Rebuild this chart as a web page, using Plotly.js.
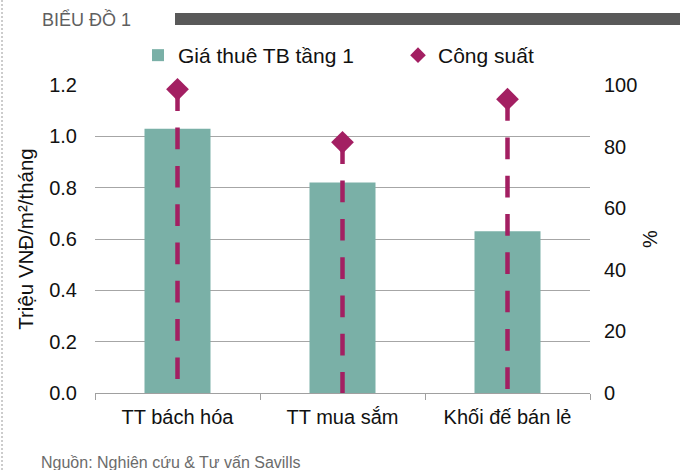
<!DOCTYPE html>
<html>
<head>
<meta charset="utf-8">
<script src="https://cdn.plot.ly/plotly-3.0.1.min.js"></script>
<style>
  html, body { margin: 0; padding: 0; background: #fff; }
  #chart { width: 680px; height: 470px; }
</style>
</head>
<body>
<div id="chart"></div>
<script>
// Retail segments and their figures
var categories = ["TT bách hóa", "TT mua sắm", "Khối đế bán lẻ"];
var rentValues = [1.03, 0.82, 0.63];        // Triệu VNĐ/m²/tháng (left axis)
var occupancyValues = [98.6, 81.4, 95.4];   // % (right axis)

var rentName = "Giá thuê TB tầng 1";
var occupancyName = "Công suất";
var leftTicks = [0, 0.2, 0.4, 0.6, 0.8, 1.0, 1.2];
var rightTicks = [0, 20, 40, 60, 80, 100];

var FONT = "Liberation Sans, Arial, sans-serif";
var TEAL = "#7AB0A7";
var MAGENTA = "#A31F62";

var traces = [];

// rent bars on the left axis
traces.push({
  type: "bar",
  x: categories,
  y: rentValues,
  name: rentName,
  width: 0.4,
  marker: { color: TEAL },
  yaxis: "y",
  legend: "legend",
  hoverinfo: "x+y"
});

// dashed drop lines from each occupancy point down to zero
categories.forEach(function (cat, i) {
  traces.push({
    type: "scatter",
    mode: "lines",
    x: [cat, cat],
    y: [occupancyValues[i], 0],
    yaxis: "y2",
    line: { color: MAGENTA, width: 4.5, dash: "21.7px,16.6px" },
    showlegend: false,
    hoverinfo: "skip"
  });
});

// occupancy markers
traces.push({
  type: "scatter",
  mode: "markers",
  x: categories,
  y: occupancyValues,
  name: occupancyName,
  yaxis: "y2",
  legend: "legend2",
  cliponaxis: false,
  marker: { symbol: "diamond", size: 17.5, color: MAGENTA }
});

// plot area spans x 95..590, y 85..393 px
var L = 95, R = 590, T = 85, B = 393;
function px(x) { return (x - L) / (R - L); }
function py(y) { return (B - y) / (B - T); }

function legendAt(left) {
  return {
    orientation: "h",
    x: px(left), xanchor: "left",
    y: py(35), yanchor: "top",
    font: { family: FONT, size: 21, color: "#111111" },
    itemsizing: "constant",
    bgcolor: "rgba(0,0,0,0)"
  };
}

var layout = {
  width: 680,
  height: 470,
  margin: { l: L, r: 680 - R, t: T, b: 470 - B, pad: 0 },
  paper_bgcolor: "#ffffff",
  plot_bgcolor: "#ffffff",
  font: { family: FONT, size: 20, color: "#111111" },
  showlegend: true,
  legend: legendAt(138),
  legend2: legendAt(398),
  bargap: 0.6,
  xaxis: {
    type: "category",
    showgrid: false,
    showline: true,
    linecolor: "#A0A0A0",
    linewidth: 1,
    ticks: "outside",
    tickson: "boundaries",
    ticklen: 6,
    tickcolor: "#A0A0A0",
    ticklabelstandoff: 6,
    tickfont: { family: FONT, size: 20, color: "#111111" },
    zeroline: false,
    fixedrange: true
  },
  yaxis: {
    range: [0, 1.2],
    tickvals: leftTicks,
    ticktext: leftTicks.map(function (v) { return v.toFixed(1); }),
    showgrid: true,
    gridcolor: "#A6A6A6",
    gridwidth: 1,
    zeroline: false,
    showline: false,
    ticks: "outside",
    ticklen: 13,
    tickcolor: "rgba(0,0,0,0)",
    tickfont: { family: FONT, size: 20, color: "#111111" },
    title: { text: "Triệu VNĐ/m²/tháng", font: { family: FONT, size: 20.5, color: "#111111" }, standoff: 10 },
    fixedrange: true
  },
  yaxis2: {
    overlaying: "y",
    side: "right",
    range: [0, 100],
    tickvals: rightTicks,
    showgrid: false,
    zeroline: false,
    showline: false,
    ticks: "outside",
    ticklen: 9,
    tickcolor: "rgba(0,0,0,0)",
    tickfont: { family: FONT, size: 20, color: "#111111" },
    title: { text: "%", font: { family: FONT, size: 20, color: "#111111" }, standoff: 6 },
    fixedrange: true
  },
  shapes: [
    // heading rule
    { type: "rect", xref: "paper", yref: "paper",
      x0: px(175), x1: px(682), y0: py(25), y1: py(13),
      fillcolor: "#595959", line: { width: 0 } },
    // dotted page edge
    { type: "line", xref: "paper", yref: "paper",
      x0: px(2), x1: px(2), y0: py(0), y1: py(470),
      line: { color: "#9A9A9A", width: 1, dash: "2px,2px" } }
  ],
  annotations: [
    { xref: "paper", yref: "paper", x: px(40), y: py(19), xanchor: "left", yanchor: "middle",
      text: "BIỂU ĐỒ 1", showarrow: false,
      font: { family: FONT, size: 18, color: "#5F5F5F" } },
    { xref: "paper", yref: "paper", x: px(39), y: py(462), xanchor: "left", yanchor: "middle",
      text: "Nguồn: Nghiên cứu & Tư vấn Savills", showarrow: false,
      font: { family: FONT, size: 16, color: "#6B6B6B" } }
  ]
};

Plotly.newPlot("chart", traces, layout, { displayModeBar: false, staticPlot: true });
</script>
</body>
</html>
